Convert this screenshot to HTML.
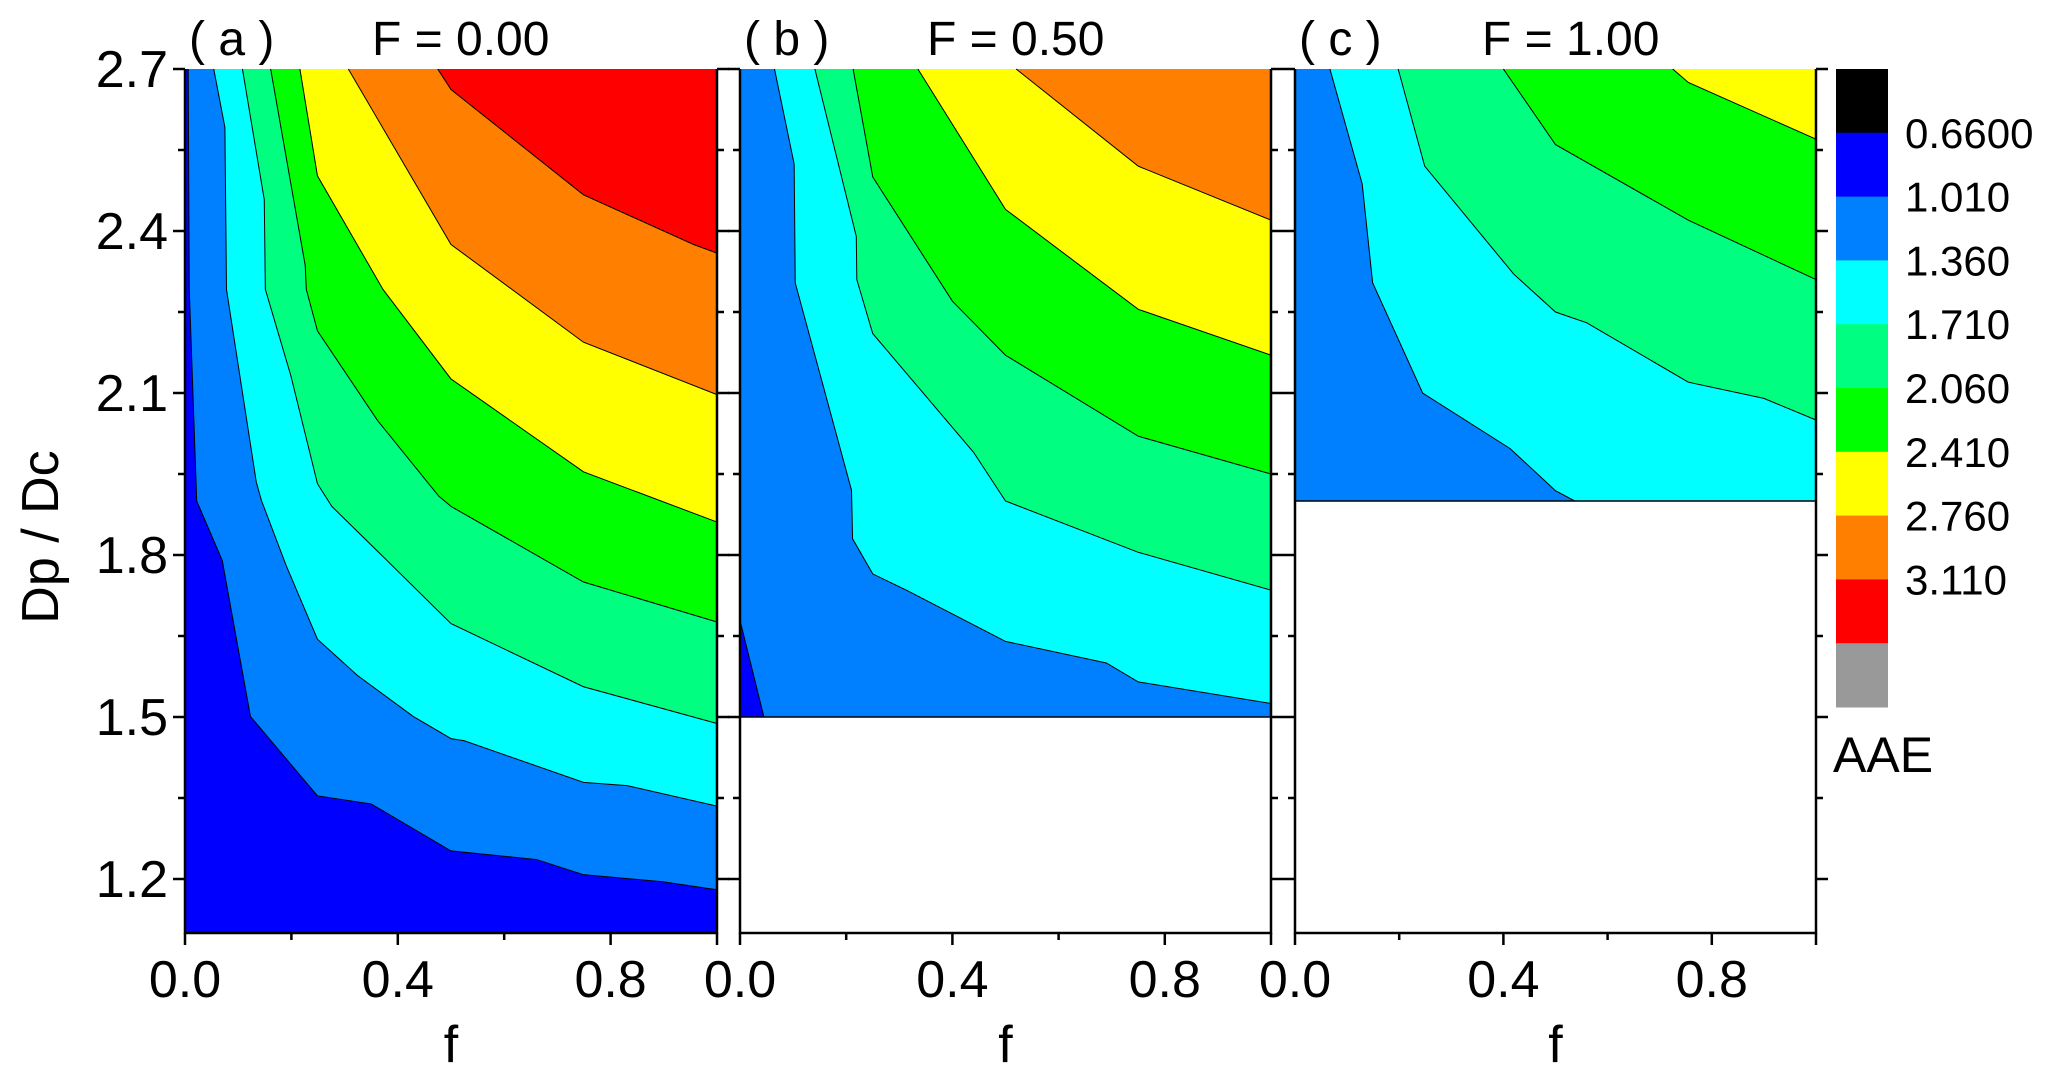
<!DOCTYPE html>
<html><head><meta charset="utf-8">
<style>
html,body{margin:0;padding:0;background:#fff;}
svg{display:block;font-family:"Liberation Sans",Arial,sans-serif;}
</style></head>
<body>
<svg id="chart" width="2067" height="1080" viewBox="0 0 2067 1080" xmlns="http://www.w3.org/2000/svg"></svg>
<script>
// ---- data ----
const levelLabels = ["0.6600","1.010","1.360","1.710","2.060","2.410","2.760","3.110"];
const levelColors = ["#000000","#0000ff","#0080ff","#00ffff","#00ff80","#00ff00","#ffff00","#ff8000","#ff0000","#999999"];
const yTicks = [1.2,1.5,1.8,2.1,2.4,2.7];
const xTickLabels = [0.0,0.4,0.8];
const panelTitles = ["F = 0.00","F = 0.50","F = 1.00"];
const panelTags = ["( a )","( b )","( c )"];
const panelYMin = [1.1,1.5,1.9];
const panelBaseLevel = [1,2,2];
// contour boundaries per panel: [levelIndex, [[f, Dp/Dc], ...]]
const panelA = [
 [2,[[0.006,2.7],[0.008,2.292],[0.022,1.90],[0.07,1.79],[0.123,1.501],[0.249,1.354],[0.35,1.339],[0.5,1.252],[0.661,1.236],[0.749,1.208],[0.898,1.195],[1.0,1.18]]],
 [3,[[0.054,2.7],[0.075,2.592],[0.078,2.292],[0.134,1.935],[0.144,1.90],[0.19,1.781],[0.249,1.644],[0.324,1.577],[0.429,1.501],[0.5,1.46],[0.525,1.456],[0.749,1.379],[0.831,1.373],[1.0,1.335]]],
 [4,[[0.108,2.7],[0.149,2.458],[0.151,2.292],[0.199,2.132],[0.249,1.932],[0.276,1.89],[0.362,1.807],[0.5,1.673],[0.749,1.556],[1.0,1.488]]],
 [5,[[0.161,2.7],[0.226,2.336],[0.228,2.292],[0.249,2.215],[0.362,2.049],[0.477,1.909],[0.5,1.89],[0.749,1.75],[1.0,1.676]]],
 [6,[[0.216,2.7],[0.249,2.502],[0.372,2.292],[0.5,2.126],[0.749,1.954],[1.0,1.861]]],
 [7,[[0.307,2.7],[0.5,2.375],[0.749,2.194],[1.0,2.097]]],
 [8,[[0.475,2.7],[0.5,2.662],[0.749,2.467],[0.956,2.375],[1.0,2.359]]]
];
const panelBCorner = [[0,1.679],[0.045,1.5]];
const panelB = [
 [3,[[0.065,2.7],[0.102,2.524],[0.104,2.304],[0.21,1.92],[0.212,1.83],[0.25,1.765],[0.313,1.735],[0.5,1.64],[0.69,1.6],[0.75,1.565],[1.0,1.525]]],
 [4,[[0.141,2.7],[0.219,2.39],[0.22,2.31],[0.25,2.21],[0.44,1.99],[0.5,1.9],[0.75,1.805],[1.0,1.735]]],
 [5,[[0.213,2.7],[0.25,2.5],[0.4,2.27],[0.5,2.17],[0.75,2.02],[1.0,1.95]]],
 [6,[[0.335,2.7],[0.5,2.44],[0.75,2.255],[1.0,2.17]]],
 [7,[[0.52,2.7],[0.75,2.52],[1.0,2.42]]]
];
const panelC = [
 [3,[[0.067,2.7],[0.129,2.487],[0.149,2.304],[0.245,2.1],[0.413,1.997],[0.5,1.919],[0.537,1.9]]],
 [4,[[0.198,2.7],[0.249,2.52],[0.42,2.32],[0.5,2.25],[0.56,2.23],[0.755,2.12],[0.9,2.09],[1.0,2.05]]],
 [5,[[0.4,2.7],[0.5,2.56],[0.755,2.42],[1.0,2.31]]],
 [6,[[0.725,2.7],[0.755,2.675],[1.0,2.57]]]
];
const panels = [panelA, panelB, panelC];

// ---- layout ----
const NS = "http://www.w3.org/2000/svg";
const svg = document.getElementById("chart");
const panelX = [[185,717],[740,1271],[1295,1816]];
const yTop = 69, yPerUnit = 540, yMax = 2.7, yMin = 1.1;
const yBottom = yTop + (yMax - yMin) * yPerUnit;
function sy(v){ return yTop + (yMax - v) * yPerUnit; }
function mk(tag, attrs, parent){
  const e = document.createElementNS(NS, tag);
  for (const k in attrs) e.setAttribute(k, attrs[k]);
  (parent || svg).appendChild(e);
  return e;
}

panels.forEach((bounds, p) => {
  const x0 = panelX[p][0], x1 = panelX[p][1];
  const sx = f => x0 + f * (x1 - x0);
  const g = mk("g", {});
  
  
  const base = mk("rect", {x:x0, y:yTop, width:x1-x0, height:sy(panelYMin[p])-yTop, fill:levelColors[panelBaseLevel[p]]}, g);
  
  
  if (p === 1) {
    const pts = panelBCorner.map(d => sx(d[0]) + "," + sy(d[1])).join(" ") + " " + sx(0) + "," + sy(1.5);
    const c = mk("polygon", {points: pts, fill: levelColors[1], stroke:"#000", "stroke-width":1}, g);
    
    
  }
  bounds.forEach(b => {
    const lvl = b[0], line = b[1];
    const pts = line.map(d => [sx(d[0]), sy(d[1])]);
    const poly = pts.slice();
    const last = line[line.length-1];
    if (last[0] < 0.999) poly.push([sx(1), sy(panelYMin[p])]);
    poly.push([sx(1), sy(2.7)]);
    poly.push([sx(line[0][0]), sy(2.7)]);
    const pg = mk("polygon", {points: poly.map(q => q.join(",")).join(" "), fill: levelColors[lvl]}, g);
    
    
    const pl = mk("polyline", {points: pts.map(q => q.join(",")).join(" "), fill:"none", stroke:"#000", "stroke-width":1}, g);
    
    
  });
  if (p > 0) {
    const bl = mk("line", {x1:x0, x2:x1, y1:sy(panelYMin[p]), y2:sy(panelYMin[p]), stroke:"#000", "stroke-width":1.5}, g);
    
    
  }
  const ax = mk("path", {d:`M${x0},${yTop}V${yBottom}H${x1}V${yTop}`, fill:"none", stroke:"#000", "stroke-width":2.5}, g);
  
  
  for (let v = 1.2; v <= 2.701; v += 0.15) {
    const major = Math.abs((v - 1.2) / 0.3 - Math.round((v - 1.2) / 0.3)) < 0.01;
    const len = major ? 12 : 7;
    const t1 = mk("line", {x1:x0-len, x2:x0, y1:sy(v), y2:sy(v), stroke:"#000", "stroke-width":2.5}, g);
    
    
    const t2 = mk("line", {x1:x1, x2:x1+len, y1:sy(v), y2:sy(v), stroke:"#000", "stroke-width":2.5}, g);
    
    
  }
  for (let f = 0; f <= 1.001; f += 0.2) {
    const major = Math.abs(f/0.4 - Math.round(f/0.4)) < 0.01 || f > 0.99;
    const t = mk("line", {x1:sx(f), x2:sx(f), y1:yBottom, y2:yBottom+(major?12:7), stroke:"#000", "stroke-width":2.5}, g);
    
    
  }
  xTickLabels.forEach(v => {
    const t = mk("text", {x:sx(v), y:997, "font-size":52, "text-anchor":"middle"}, g);
    t.textContent = v.toFixed(1);
    
    
  });
  const xl = mk("text", {x:(x0+x1)/2, y:1062, "font-size":52, "text-anchor":"middle"}, g);
  xl.textContent = "f";
  
  
  const tag = mk("text", {x:x0+4, y:55, "font-size":48}, g);
  tag.textContent = panelTags[p];
  
  
  const tt = mk("text", {x:x0+187, y:55, "font-size":48}, g);
  tt.textContent = panelTitles[p];
  
  
});

yTicks.forEach(v => {
  const t = mk("text", {x:168, y:sy(v)+18, "font-size":52, "text-anchor":"end"});
  t.textContent = v.toFixed(1);
  
  
});
const yt = mk("text", {x:0, y:0, "font-size":52, "text-anchor":"middle", transform:"translate(58,537) rotate(-90)"});
yt.textContent = "Dp / Dc";



// colorbar
const cbX = 1836, cbW = 52, cbTop = 69, cbH = 63.8;
levelColors.forEach((c, i) => {
  const r = mk("rect", {x:cbX, y:cbTop + i*cbH, width:cbW, height:cbH+0.5, fill:c});
  
  
});
levelLabels.forEach((l, i) => {
  const t = mk("text", {x:1905, y:cbTop + (i+1)*cbH + 15, "font-size":42});
  t.textContent = l;
  
  
});
const aae = mk("text", {x:1833, y:772, "font-size":50});
aae.textContent = "AAE";


</script>
</body></html>
